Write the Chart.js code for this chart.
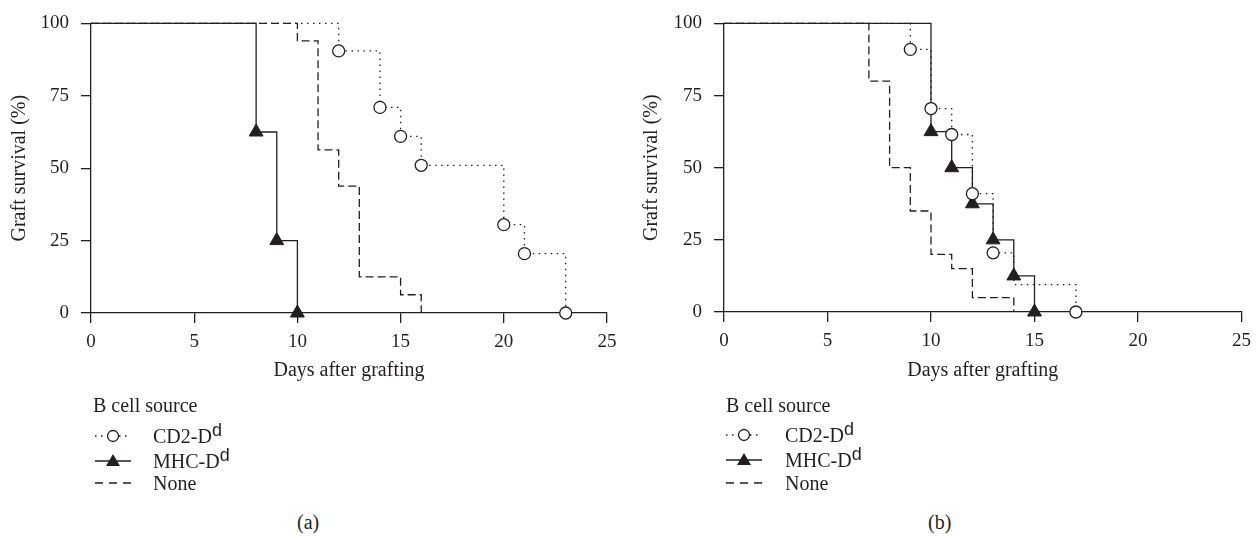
<!DOCTYPE html>
<html>
<head>
<meta charset="utf-8">
<script src="https://cdn.jsdelivr.net/npm/chart.js@4.4.1/dist/chart.umd.min.js"></script>
<style>
  body { margin: 0; background: #fff; }
  #page { position: relative; width: 1260px; height: 537px; overflow: hidden; font-family: "Liberation Serif", serif; color: #231f20; }
  canvas { position: absolute; top: 0; }
  .txt { position: absolute; font-size: 20px; line-height: 24px; white-space: nowrap; }
  .sup { font-family: "Liberation Sans", sans-serif; font-size: 18px; position: relative; top: -7px; }
  .sym { position: absolute; }
</style>
</head>
<body>
<div id="page">
  <canvas id="chartA" width="630" height="400" style="left:0"></canvas>
  <canvas id="chartB" width="630" height="400" style="left:630px"></canvas>

  <!-- legenda (a) -->
  <div class="txt" style="left:93px; top:393px">B cell source</div>
  <svg class="sym" style="left:95px; top:428px" width="36" height="16">
    <line x1="0" y1="8" x2="36" y2="8" stroke="#231f20" stroke-width="1.3" stroke-dasharray="1.5 4.5"/>
    <circle cx="18" cy="8" r="5.5" fill="#fff" stroke="#231f20" stroke-width="1.3"/>
  </svg>
  <div class="txt" style="left:153px; top:424px">CD2-D<span class="sup">d</span></div>
  <svg class="sym" style="left:95px; top:453px" width="36" height="16">
    <line x1="0" y1="8" x2="36" y2="8" stroke="#231f20" stroke-width="1.3"/>
    <polygon points="18,1 25,13 11,13" fill="#231f20"/>
  </svg>
  <div class="txt" style="left:153px; top:449px">MHC-D<span class="sup">d</span></div>
  <svg class="sym" style="left:95px; top:475px" width="36" height="16">
    <line x1="0" y1="8" x2="36" y2="8" stroke="#231f20" stroke-width="1.3" stroke-dasharray="8 6"/>
  </svg>
  <div class="txt" style="left:153px; top:471px">None</div>
  <div class="txt" style="left:297px; top:510px">(a)</div>

  <!-- legenda (b) -->
  <div class="txt" style="left:726px; top:393px">B cell source</div>
  <svg class="sym" style="left:726px; top:427px" width="36" height="16">
    <line x1="0" y1="8" x2="36" y2="8" stroke="#231f20" stroke-width="1.3" stroke-dasharray="1.5 4.5"/>
    <circle cx="18" cy="8" r="5.5" fill="#fff" stroke="#231f20" stroke-width="1.3"/>
  </svg>
  <div class="txt" style="left:785px; top:423px">CD2-D<span class="sup">d</span></div>
  <svg class="sym" style="left:726px; top:452px" width="36" height="16">
    <line x1="0" y1="8" x2="36" y2="8" stroke="#231f20" stroke-width="1.3"/>
    <polygon points="18,1 25,13 11,13" fill="#231f20"/>
  </svg>
  <div class="txt" style="left:785px; top:448px">MHC-D<span class="sup">d</span></div>
  <svg class="sym" style="left:726px; top:475px" width="36" height="16">
    <line x1="0" y1="8" x2="36" y2="8" stroke="#231f20" stroke-width="1.3" stroke-dasharray="8 6"/>
  </svg>
  <div class="txt" style="left:785px; top:471px">None</div>
  <div class="txt" style="left:928px; top:510px">(b)</div>
</div>

<script>
// eixos
var diasTicks = [0, 5, 10, 15, 20, 25];
var sobrevTicks = [0, 25, 50, 75, 100];

// painel (a)
var diasA_CD2 = [0, 12, 14, 15, 16, 20, 21, 23];
var sobrevA_CD2 = [100, 90.5, 71, 61, 51, 30.5, 20.5, 0];
var diasA_MHC = [0, 8, 9, 10];
var sobrevA_MHC = [100, 62.5, 25, 0];
var diasA_None = [0, 10, 11, 12, 13, 15, 16];
var sobrevA_None = [100, 94, 56.3, 43.8, 12.5, 6.3, 0];

// painel (b)
var diasB_CD2 = [0, 9, 10, 11, 12, 13, 14, 17];
var sobrevB_CD2 = [100, 91, 70.5, 61.5, 41, 20.5, 9.5, 0];
var semMarcaB_CD2 = [6]; // ponto sem circulo (escondido atras do triangulo)
var diasB_MHC = [0, 10, 11, 12, 13, 14, 15];
var sobrevB_MHC = [100, 62.5, 50, 37.5, 25, 12.5, 0];
var diasB_None = [0, 7, 8, 9, 10, 11, 12, 14];
var sobrevB_None = [100, 80, 50, 35, 20, 15, 5, 0];

var cor = '#231f20';
var fonte = 'Liberation Serif';

function pontos(dias, sobrev){
    return dias.map(function(d, i){ return {x: d, y: sobrev[i]}; });
}

function raio(r, pular){
    return function(ctx){
        if(ctx.dataIndex == 0) return 0;
        if(pular && pular.indexOf(ctx.dataIndex) != -1) return 0;
        return r;
    };
}

function criaGrafico(id, cd2, mhc, none, pularCD2, yLargura, xAltura, dirPad, tituloYPad){
    var ctx = document.getElementById(id);
    new Chart(ctx, {
        type: 'line',
        data: {
            datasets: [
            {
                label: 'CD2-Dd',
                data: cd2,
                stepped: true,
                borderColor: cor,
                borderWidth: 1.3,
                borderDash: [1.5, 4.5],
                pointStyle: 'circle',
                pointRadius: raio(6, pularCD2),
                pointBackgroundColor: '#fff',
                pointBorderColor: cor,
                pointBorderWidth: 1.3,
                clip: false
            },
            {
                label: 'MHC-Dd',
                data: mhc,
                stepped: true,
                borderColor: cor,
                borderWidth: 1.3,
                pointStyle: 'triangle',
                pointRadius: raio(8),
                pointBackgroundColor: cor,
                pointBorderColor: cor,
                pointBorderWidth: 1,
                clip: false
            },
            {
                label: 'None',
                data: none,
                stepped: true,
                borderColor: cor,
                borderWidth: 1.3,
                borderDash: [8, 4],
                pointRadius: 0,
                clip: false
            }
        ]
        },
        options: {
            responsive: false,
            animation: false,
            layout: { padding: { top: 15, right: dirPad, left: 0, bottom: 0 } },
            plugins: { legend: { display: false }, tooltip: { enabled: false } },
            scales: {
                x: {
                    type: 'linear',
                    min: diasTicks[0],
                    max: diasTicks[diasTicks.length - 1],
                    afterBuildTicks: function(s){ s.ticks = diasTicks.map(function(v){ return {value: v}; }); },
                    afterFit: function(s){ s.height = xAltura; },
                    ticks: { color: cor, padding: 8, font: { family: fonte, size: 19 } },
                    grid: { drawOnChartArea: false, tickLength: 10, color: cor, lineWidth: 1.3 },
                    border: { color: cor, width: 1.3 },
                    title: { display: true, text: 'Days after grafting', color: cor, font: { family: fonte, size: 20 }, padding: { top: 0, bottom: 17 } }
                },
                y: {
                    min: sobrevTicks[0],
                    max: sobrevTicks[sobrevTicks.length - 1],
                    afterBuildTicks: function(s){ s.ticks = sobrevTicks.map(function(v){ return {value: v}; }); },
                    afterFit: function(s){ s.width = yLargura; },
                    ticks: { color: cor, padding: 12, font: { family: fonte, size: 19 } },
                    grid: { drawOnChartArea: false, tickLength: 10, color: cor, lineWidth: 1.3 },
                    border: { color: cor, width: 1.3 },
                    title: { display: true, text: 'Graft survival (%)', color: cor, font: { family: fonte, size: 20 }, padding: { top: tituloYPad, bottom: 0 } }
                }
            }
        }
    });
}

criaGrafico('chartA', pontos(diasA_CD2, sobrevA_CD2), pontos(diasA_MHC, sobrevA_MHC), pontos(diasA_None, sobrevA_None), null, 91, 87, 23, 8);
criaGrafico('chartB', pontos(diasB_CD2, sobrevB_CD2), pontos(diasB_MHC, sobrevB_MHC), pontos(diasB_None, sobrevB_None), semMarcaB_CD2, 94, 88, 18.5, 9.5);
</script>
</body>
</html>
